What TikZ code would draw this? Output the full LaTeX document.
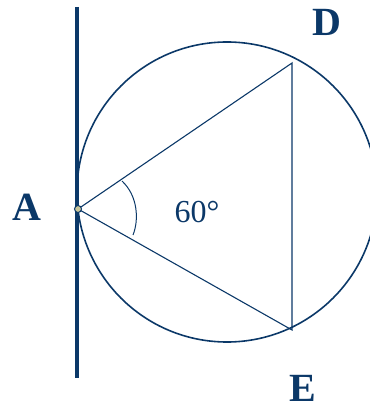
\documentclass[tikz,border=0pt]{standalone}
\usepackage{fontspec}
\setmainfont{Liberation Serif}
\usepackage{tikz}
\usetikzlibrary{calc}
\definecolor{navy}{HTML}{0B3868}
\definecolor{dotfill}{HTML}{C8C69A}

\begin{document}
\begin{tikzpicture}[x=1pt, y=-1pt,
    lbl/.style={font=\fontsize{40}{40}\selectfont\bfseries, text=navy},
    angtxt/.style={font=\fontsize{32}{32}\selectfont, text=navy},
    side/.style={navy, line width=1.1pt}]
  \useasboundingbox (0,0) rectangle (369,411);
  % tangent line and circle
  \coordinate (top) at (77,7);
  \coordinate (bot) at (77,378);
  \coordinate (O) at (227,192);
  \draw[navy, line width=3.6pt] (top) -- (bot);
  \draw[navy, line width=1.6pt] (O) circle (150);
  % triangle
  \coordinate (A) at (78,209);
  \coordinate (D) at (292,63);
  \coordinate (E) at (292,330);
  \draw[side, line join=miter] (A) -- (D) -- (E) -- cycle;
  % angle mark
  \coordinate (arcS) at (122,181);
  \coordinate (arcE) at (133,235);
  \draw[navy, line width=1pt] (arcS) .. controls (138,196) and (139,220) .. (arcE);
  \node[circle, draw=navy, fill=dotfill, line width=1pt, inner sep=0pt,
        minimum size=7pt] (dotA) at (A) {};
  % labels
  \node[lbl] (labA) at (27,207) {A};
  \node[lbl] (labD) at (327,22) {D};
  \node[lbl] (labE) at (303,388) {E};
  \node[angtxt] (ang) at (197,212) {60°};
\end{tikzpicture}
\end{document}
